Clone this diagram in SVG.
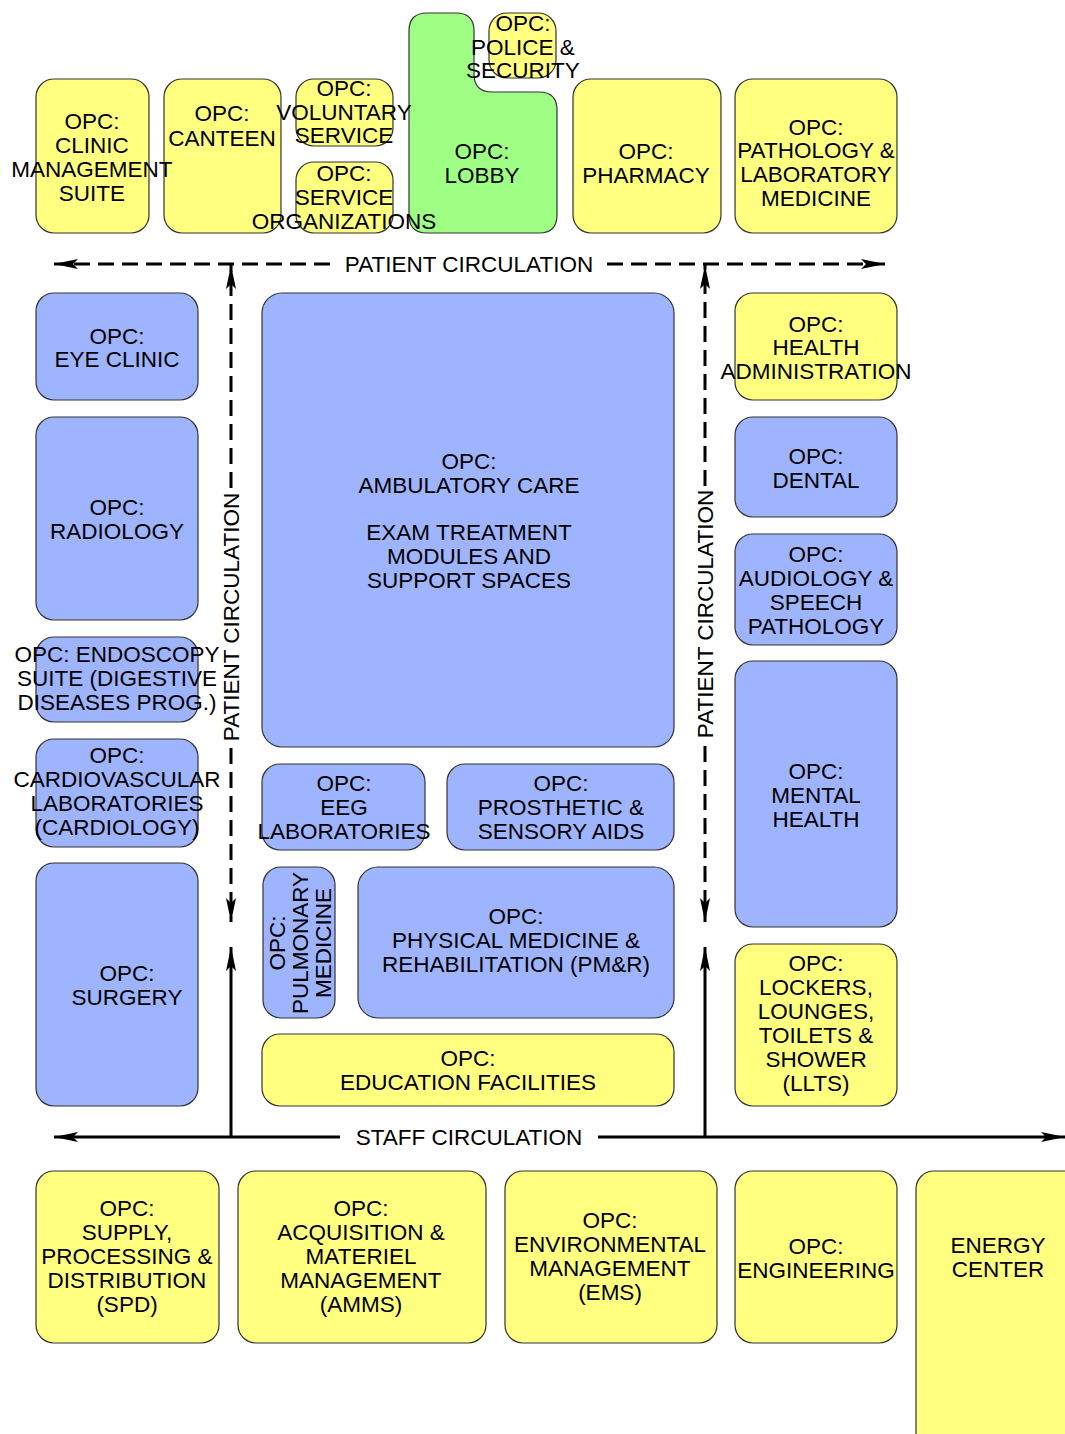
<svg xmlns="http://www.w3.org/2000/svg" width="1065" height="1434" viewBox="0 0 1065 1434">
<style>
.y{fill:#ffff80;stroke:#333;stroke-width:1.2}
.b{fill:#9fb4ff;stroke:#333;stroke-width:1.2}
.g{fill:#9eff84;stroke:#333;stroke-width:1.2}
text{font-family:"Liberation Sans",Arial,sans-serif;font-size:22.5px;fill:#000;text-anchor:middle}
.d{stroke:#000;stroke-width:3;fill:none;stroke-dasharray:16 8}
.s{stroke:#000;stroke-width:3;fill:none}
</style>
<defs>
<marker id="ah" viewBox="0 0 24 10" refX="24" refY="5" markerWidth="24" markerHeight="10" markerUnits="userSpaceOnUse" orient="auto">
<path d="M0,0 L24,5 L0,10 L5,5 Z" fill="#000"/>
</marker>
</defs>
<rect width="1065" height="1434" fill="#fff"/>

<g id="connectors">
<line class="d" x1="330" y1="264" x2="54" y2="264" marker-end="url(#ah)"/>
<line class="d" x1="607" y1="264" x2="885" y2="264" marker-end="url(#ah)"/>
<text x="469" y="272">PATIENT CIRCULATION</text>
<line class="d" x1="231" y1="488" x2="231" y2="265" marker-end="url(#ah)"/>
<line class="d" x1="231" y1="748" x2="231" y2="922" marker-end="url(#ah)"/>
<text transform="translate(239,617) rotate(-90)">PATIENT CIRCULATION</text>
<line class="d" x1="705" y1="486" x2="705" y2="265" marker-end="url(#ah)"/>
<line class="d" x1="705" y1="746" x2="705" y2="922" marker-end="url(#ah)"/>
<text transform="translate(713,614) rotate(-90)">PATIENT CIRCULATION</text>
<line class="s" x1="340" y1="1137" x2="54" y2="1137" marker-end="url(#ah)"/>
<line class="s" x1="598" y1="1137" x2="1065" y2="1137" marker-end="url(#ah)"/>
<text x="469" y="1145">STAFF CIRCULATION</text>
<line class="s" x1="231" y1="1137" x2="231" y2="947" marker-end="url(#ah)"/>
<line class="s" x1="705" y1="1137" x2="705" y2="947" marker-end="url(#ah)"/>
</g>

<g id="canteen"><rect class="y" x="164" y="79" width="117" height="154" rx="18"/><text x="222" y="121">OPC:</text><text x="222" y="146">CANTEEN</text></g>
<g id="lobby"><path class="g" d="M427,13 L456,13 Q474,13 474,31 L474,74 Q474,92 492,92 L539,92 Q557,92 557,110 L557,215 Q557,233 539,233 L427,233 Q409,233 409,215 L409,31 Q409,13 427,13 Z"/><text x="482" y="159">OPC:</text><text x="482" y="183">LOBBY</text></g>
<g id="clinic-management"><rect class="y" x="36" y="79" width="113" height="154" rx="18"/><text x="92" y="129">OPC:</text><text x="92" y="153">CLINIC</text><text x="92" y="177">MANAGEMENT</text><text x="92" y="201">SUITE</text></g>
<g id="voluntary-service"><rect class="y" x="296" y="79" width="97" height="67" rx="18"/><text x="344" y="96">OPC:</text><text x="344" y="120">VOLUNTARY</text><text x="344" y="143">SERVICE</text></g>
<g id="service-organizations"><rect class="y" x="296" y="162" width="97" height="71" rx="18"/><text x="344" y="181">OPC:</text><text x="344" y="205">SERVICE</text><text x="344" y="229">ORGANIZATIONS</text></g>
<g id="police-security"><rect class="y" x="489" y="13" width="67" height="65" rx="18"/><text x="523" y="31">OPC:</text><text x="523" y="55">POLICE &amp;</text><text x="523" y="78">SECURITY</text></g>
<g id="pharmacy"><rect class="y" x="573" y="79" width="148" height="154" rx="18"/><text x="646" y="159">OPC:</text><text x="646" y="183">PHARMACY</text></g>
<g id="pathology"><rect class="y" x="735" y="79" width="162" height="154" rx="18"/><text x="816" y="135">OPC:</text><text x="816" y="158">PATHOLOGY &amp;</text><text x="816" y="182">LABORATORY</text><text x="816" y="206">MEDICINE</text></g>

<g id="eye-clinic"><rect class="b" x="36" y="293" width="162" height="107" rx="18"/><text x="117" y="344">OPC:</text><text x="117" y="367">EYE CLINIC</text></g>
<g id="radiology"><rect class="b" x="36" y="417" width="162" height="203" rx="18"/><text x="117" y="515">OPC:</text><text x="117" y="539">RADIOLOGY</text></g>
<g id="endoscopy"><rect class="b" x="36" y="637" width="162" height="85" rx="18"/><text x="117" y="662">OPC: ENDOSCOPY</text><text x="117" y="686">SUITE (DIGESTIVE</text><text x="117" y="710">DISEASES PROG.)</text></g>
<g id="cardiovascular"><rect class="b" x="36" y="739" width="162" height="108" rx="18"/><text x="117" y="763">OPC:</text><text x="117" y="787">CARDIOVASCULAR</text><text x="117" y="811">LABORATORIES</text><text x="117" y="835">(CARDIOLOGY)</text></g>
<g id="surgery"><rect class="b" x="36" y="863" width="162" height="243" rx="18"/><text x="127" y="981">OPC:</text><text x="127" y="1005">SURGERY</text></g>

<g id="ambulatory-care"><rect class="b" x="262" y="293" width="412" height="454" rx="20"/><text x="469" y="469">OPC:</text><text x="469" y="493">AMBULATORY CARE</text><text x="469" y="540">EXAM TREATMENT</text><text x="469" y="564">MODULES AND</text><text x="469" y="588">SUPPORT SPACES</text></g>
<g id="eeg"><rect class="b" x="262" y="764" width="163" height="86" rx="18"/><text x="344" y="791">OPC:</text><text x="344" y="815">EEG</text><text x="344" y="839">LABORATORIES</text></g>
<g id="prosthetic"><rect class="b" x="447" y="764" width="227" height="86" rx="18"/><text x="561" y="791">OPC:</text><text x="561" y="815">PROSTHETIC &amp;</text><text x="561" y="839">SENSORY AIDS</text></g>
<g id="pulmonary"><rect class="b" x="263" y="867" width="72" height="151" rx="18"/><text transform="translate(285,943) rotate(-90)">OPC:</text><text transform="translate(308,943) rotate(-90)">PULMONARY</text><text transform="translate(331,943) rotate(-90)">MEDICINE</text></g>
<g id="pmr"><rect class="b" x="358" y="867" width="316" height="151" rx="20"/><text x="516" y="924">OPC:</text><text x="516" y="948">PHYSICAL MEDICINE &amp;</text><text x="516" y="972">REHABILITATION (PM&amp;R)</text></g>
<g id="education"><rect class="y" x="262" y="1034" width="412" height="72" rx="18"/><text x="468" y="1066">OPC:</text><text x="468" y="1090">EDUCATION FACILITIES</text></g>

<g id="health-administration"><rect class="y" x="735" y="293" width="162" height="107" rx="18"/><text x="816" y="332">OPC:</text><text x="816" y="355">HEALTH</text><text x="816" y="379">ADMINISTRATION</text></g>
<g id="dental"><rect class="b" x="735" y="417" width="162" height="100" rx="18"/><text x="816" y="464">OPC:</text><text x="816" y="488">DENTAL</text></g>
<g id="audiology"><rect class="b" x="735" y="534" width="162" height="111" rx="18"/><text x="816" y="562">OPC:</text><text x="816" y="586">AUDIOLOGY &amp;</text><text x="816" y="610">SPEECH</text><text x="816" y="634">PATHOLOGY</text></g>
<g id="mental-health"><rect class="b" x="735" y="661" width="162" height="266" rx="18"/><text x="816" y="779">OPC:</text><text x="816" y="803">MENTAL</text><text x="816" y="827">HEALTH</text></g>
<g id="lockers"><rect class="y" x="735" y="944" width="162" height="162" rx="18"/><text x="816" y="971">OPC:</text><text x="816" y="995">LOCKERS,</text><text x="816" y="1019">LOUNGES,</text><text x="816" y="1043">TOILETS &amp;</text><text x="816" y="1067">SHOWER</text><text x="816" y="1091">(LLTS)</text></g>

<g id="spd"><rect class="y" x="36" y="1171" width="183" height="172" rx="18"/><text x="127" y="1216">OPC:</text><text x="127" y="1240">SUPPLY,</text><text x="127" y="1264">PROCESSING &amp;</text><text x="127" y="1288">DISTRIBUTION</text><text x="127" y="1312">(SPD)</text></g>
<g id="amms"><rect class="y" x="238" y="1171" width="248" height="172" rx="18"/><text x="361" y="1216">OPC:</text><text x="361" y="1240">ACQUISITION &amp;</text><text x="361" y="1264">MATERIEL</text><text x="361" y="1288">MANAGEMENT</text><text x="361" y="1312">(AMMS)</text></g>
<g id="ems"><rect class="y" x="505" y="1171" width="212" height="172" rx="18"/><text x="610" y="1228">OPC:</text><text x="610" y="1252">ENVIRONMENTAL</text><text x="610" y="1276">MANAGEMENT</text><text x="610" y="1300">(EMS)</text></g>
<g id="engineering"><rect class="y" x="735" y="1171" width="162" height="172" rx="18"/><text x="816" y="1254">OPC:</text><text x="816" y="1278">ENGINEERING</text></g>
<g id="energy-center"><rect class="y" x="916" y="1171" width="170" height="290" rx="18"/><text x="998" y="1253">ENERGY</text><text x="998" y="1277">CENTER</text></g>
</svg>
